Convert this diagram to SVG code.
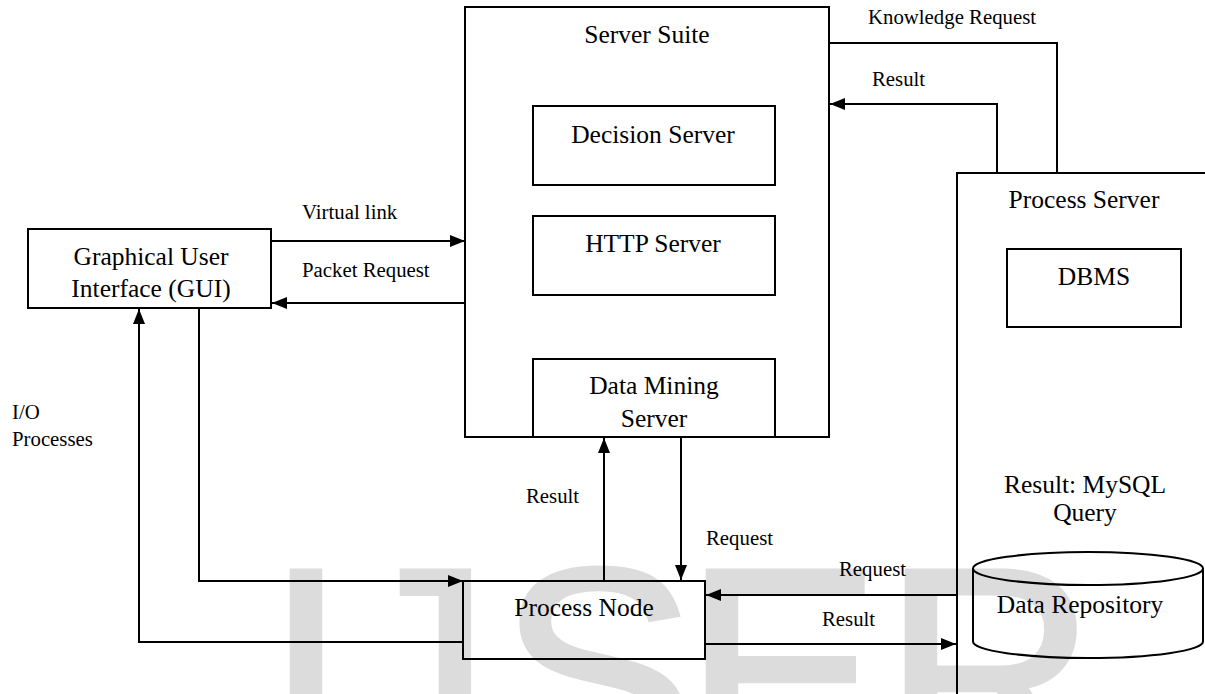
<svg xmlns="http://www.w3.org/2000/svg" width="1205" height="694" viewBox="0 0 1205 694">
<style>
.box{fill:none;stroke:#000;stroke-width:2}
.ln{fill:none;stroke:#000;stroke-width:2}
.t{font-family:"Liberation Serif","Times New Roman",serif;font-size:25.5px;fill:#000}
.s{font-family:"Liberation Serif","Times New Roman",serif;font-size:20.8px;fill:#000}
.wm{font-family:"Liberation Sans",Arial,sans-serif;font-size:295px;fill:#dcdcdc;stroke:#dcdcdc;stroke-width:5}
</style>
<defs>
<marker id="ah" markerUnits="userSpaceOnUse" markerWidth="16" markerHeight="14" refX="15" refY="6" orient="auto">
<path d="M0,0 L15,6 L0,12 z" fill="#000"/>
</marker>
</defs>
<rect width="1205" height="694" fill="#fff"/>
<text class="wm" x="265 343 499 684 883" y="774">IJSER</text>

<g id="server-suite">
<rect class="box" x="465" y="7" width="364" height="430"/>
<text class="t" x="647" y="43" text-anchor="middle">Server Suite</text>
</g>
<g id="decision-server">
<rect class="box" x="533" y="106" width="242" height="79"/>
<text class="t" x="653" y="143" text-anchor="middle">Decision Server</text>
</g>
<g id="http-server">
<rect class="box" x="533" y="216" width="242" height="79"/>
<text class="t" x="653" y="252" text-anchor="middle">HTTP Server</text>
</g>
<g id="data-mining-server">
<rect class="box" x="533" y="359" width="242" height="78"/>
<text class="t" x="654" y="394" text-anchor="middle">Data Mining</text>
<text class="t" x="654" y="427" text-anchor="middle">Server</text>
</g>
<g id="gui">
<rect class="box" x="28" y="229" width="243" height="79"/>
<text class="t" x="151" y="265" text-anchor="middle">Graphical User</text>
<text class="t" x="151" y="297" text-anchor="middle">Interface (GUI)</text>
</g>
<g id="process-node">
<rect class="box" x="463" y="581" width="242" height="78"/>
<text class="t" x="584" y="616" text-anchor="middle">Process Node</text>
</g>
<g id="process-server">
<rect class="box" x="957" y="173" width="270" height="540"/>
<text class="t" x="1084" y="208" text-anchor="middle">Process Server</text>
<text class="t" x="1085" y="493" text-anchor="middle">Result: MySQL</text>
<text class="t" x="1085" y="521" text-anchor="middle">Query</text>
</g>
<g id="dbms">
<rect class="box" x="1007" y="249" width="174" height="78"/>
<text class="t" x="1094" y="285" text-anchor="middle">DBMS</text>
</g>
<g id="data-repository">
<path class="box" d="M973,568.5 L973,641.5 A115,16.5 0 0 0 1203,641.5 L1203,568.5"/>
<ellipse class="box" cx="1088" cy="568.5" rx="115" ry="16.5"/>
<text class="t" x="1080" y="613" text-anchor="middle">Data Repository</text>
</g>

<g id="connectors">
<line class="ln" x1="271" y1="241" x2="465" y2="241" marker-end="url(#ah)"/>
<line class="ln" x1="465" y1="303" x2="272" y2="303" marker-end="url(#ah)"/>
<polyline class="ln" points="463,642 139,642 139,309" marker-end="url(#ah)"/>
<polyline class="ln" points="199,308 199,581 463,581" marker-end="url(#ah)"/>
<line class="ln" x1="604" y1="581" x2="604" y2="438" marker-end="url(#ah)"/>
<line class="ln" x1="681" y1="437" x2="681" y2="580" marker-end="url(#ah)"/>
<line class="ln" x1="957" y1="595" x2="706" y2="595" marker-end="url(#ah)"/>
<line class="ln" x1="705" y1="644" x2="956" y2="644" marker-end="url(#ah)"/>
<polyline class="ln" points="829,43 1057,43 1057,173"/>
<polyline class="ln" points="997,173 997,104 830,104" marker-end="url(#ah)"/>
</g>
<g id="labels">
<text class="s" x="302" y="219">Virtual link</text>
<text class="s" x="302" y="277">Packet Request</text>
<text class="s" x="12" y="419">I/O</text>
<text class="s" x="12" y="446">Processes</text>
<text class="s" x="526" y="503">Result</text>
<text class="s" x="706" y="545">Request</text>
<text class="s" x="839" y="576">Request</text>
<text class="s" x="822" y="626">Result</text>
<text class="s" x="868" y="24">Knowledge Request</text>
<text class="s" x="872" y="86">Result</text>
</g>
</svg>
